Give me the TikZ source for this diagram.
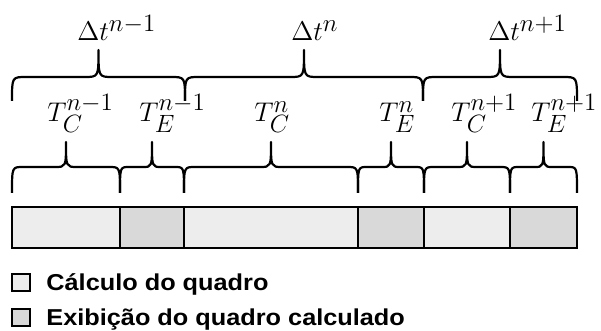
\RequirePackage{fix-cm}
\documentclass[tikz,border=0pt]{standalone}
\usepackage{fontspec}
\newfontfamily\legendfont[FakeStretch=1.1]{Liberation Sans}
\DeclareMathSizes{13.5}{13.5}{12.5}{10}
\newcommand\mybrace[6]{% a, b, yend, yshoulder, ytip, r
  \draw[bracestyle] (#1,#3) .. controls (#1,#4) .. ({#1+#6},#4)
    -- ({(#1+#2)/2-#6},#4) .. controls ({(#1+#2)/2},#4) .. ({(#1+#2)/2},#5)
    .. controls ({(#1+#2)/2},#4) .. ({(#1+#2)/2+#6},#4)
    -- ({#2-#6},#4) .. controls (#2,#4) .. (#2,#3);}
\begin{document}
\begin{tikzpicture}[x=0.5pt,y=-0.5pt,
  bracestyle/.style={line width=1.1pt,line join=round},
  mathlbl/.style={anchor=base west,inner sep=0pt,font=\fontsize{13.5}{15}\selectfont},
  legendtxt/.style={anchor=base west,inner sep=0pt,font=\legendfont\bfseries\fontsize{11.5}{13}\selectfont},
  calcfill/.style={fill=black!7},
  exibfill/.style={fill=black!15},
  segment/.style={draw,line width=1.3pt}]
\useasboundingbox (0,0) rectangle (601,331);
% bar segments
\path[segment,calcfill] (12,207) rectangle (120,248);
\path[segment,exibfill] (120,207) rectangle (184,248);
\path[segment,calcfill] (184,207) rectangle (358,248);
\path[segment,exibfill] (358,207) rectangle (424,248);
\path[segment,calcfill] (424,207) rectangle (510,248);
\path[segment,exibfill] (510,207) rectangle (577,248);
% lower braces
\mybrace{12}{120}{193}{167}{142}{11}
\mybrace{120}{184}{193}{167}{142}{9}
\mybrace{184}{358}{193}{167}{142}{11}
\mybrace{358}{424}{193}{167}{142}{9}
\mybrace{424}{510}{193}{167}{142}{10}
\mybrace{510}{577}{193}{167}{142}{9}
% upper braces
\mybrace{12}{185}{101}{77}{50}{14}
\mybrace{185}{423}{101}{77}{50}{14}
\mybrace{423}{577}{101}{77}{50}{14}
% labels
\node[mathlbl] (dt1) at (77,41) {$\Delta t^{n-1}$};
\node[mathlbl] (dt2) at (291,41) {$\Delta t^{n}$};
\node[mathlbl] (dt3) at (488,41) {$\Delta t^{n+1}$};
\node[mathlbl] (tc1) at (47,122) {$T_C^{n-1}$};
\node[mathlbl] (te1) at (139,122) {$T_E^{n-1}$};
\node[mathlbl] (tc2) at (254,122) {$T_C^{n}$};
\node[mathlbl] (te2) at (379,122) {$T_E^{n}$};
\node[mathlbl] (tc3) at (451,122) {$T_C^{n+1}$};
\node[mathlbl] (te3) at (531,122) {$T_E^{n+1}$};
% legend
\path[draw,line width=0.7pt,calcfill] (12,274) rectangle (30,291);
\path[draw,line width=0.7pt,exibfill] (12,309) rectangle (30,326);
\node[legendtxt] (lg1) at (46,291) {Cálculo do quadro};
\node[legendtxt] (lg2) at (46,326) {Exibição do quadro calculado};
\end{tikzpicture}
\end{document}
